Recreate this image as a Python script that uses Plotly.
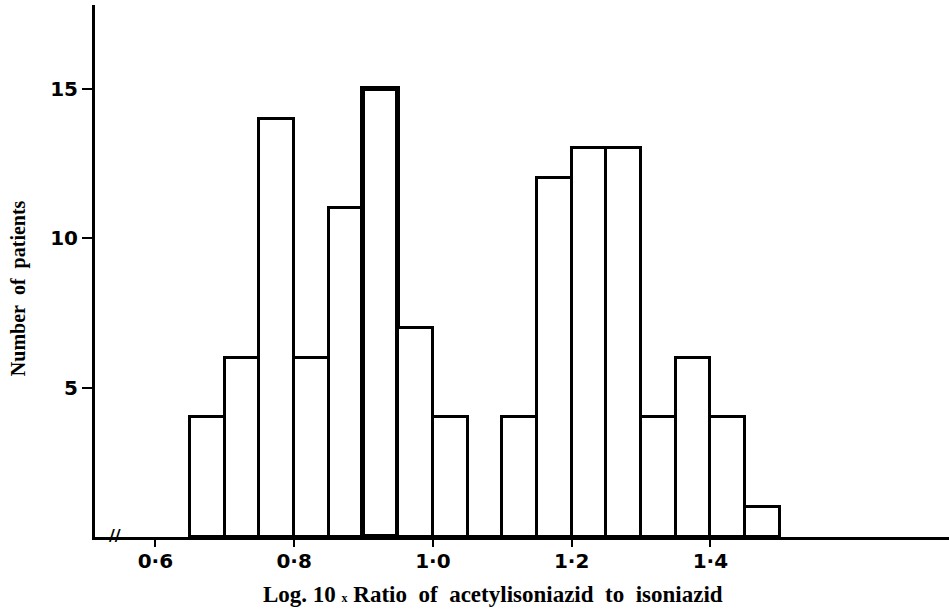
import plotly.graph_objects as go

# Histogram data (bin start, width 0.05)
bin_starts = [0.65, 0.70, 0.75, 0.80, 0.85, 0.90, 0.95, 1.00, 1.05,
              1.10, 1.15, 1.20, 1.25, 1.30, 1.35, 1.40, 1.45]
counts = [4, 6, 14, 6, 11, 15, 7, 4, 0, 4, 12, 13, 13, 4, 6, 4, 1]
bin_width = 0.05

x_tick_vals = [0.6, 0.8, 1.0, 1.2, 1.4]
x_tick_text = ["0·6", "0·8", "1·0", "1·2", "1·4"]
y_tick_vals = [5, 10, 15]
y_tick_text = ["5", "10", "15"]

x_title = "Log. 10 <span style='font-size:12px'>x</span> Ratio  of  acetylisoniazid  to  isoniazid"
y_title = "Number  of  patients"

line_widths = [5 if c == max(counts) else 3 for c in counts]

fig = go.Figure()
fig.add_trace(go.Bar(
    x=bin_starts, y=counts, width=bin_width, offset=0,
    marker=dict(color="white", line=dict(color="black", width=line_widths)),
    showlegend=False, hoverinfo="x+y",
))

fig.update_layout(
    width=949, height=613,
    margin=dict(l=95, r=0, t=5, b=76),
    paper_bgcolor="white", plot_bgcolor="white",
    bargap=0,
    xaxis=dict(
        range=[0.513, 1.744], showgrid=False, zeroline=False,
        showline=True, linecolor="black", linewidth=3,
        tickvals=x_tick_vals, ticktext=x_tick_text,
        ticks="outside", ticklen=7, tickwidth=2, tickcolor="black",
        ticklabelstandoff=-3,
        tickfont=dict(family="DejaVu Sans", size=20, color="black", weight="bold"),
    ),
    yaxis=dict(
        range=[0, 17.8], showgrid=False, zeroline=False,
        showline=True, linecolor="black", linewidth=3,
        tickvals=y_tick_vals, ticktext=y_tick_text,
        ticks="outside", ticklen=10, tickwidth=2, tickcolor="black",
        tickfont=dict(family="DejaVu Sans", size=20, color="black", weight="bold"),
    ),
)

fig.add_annotation(xref="paper", yref="paper", x=0.466, y=-0.109,
                   xanchor="center", yanchor="middle", showarrow=False,
                   text=x_title.replace("  ", "\u00a0\u00a0"),
                   font=dict(family="Liberation Serif", size=23, color="black", weight="bold"))
fig.add_annotation(xref="paper", yref="paper", x=-0.090, y=0.468,
                   xanchor="center", yanchor="middle", showarrow=False, textangle=-90,
                   text=y_title.replace("  ", "\u00a0\u00a0"),
                   font=dict(family="Liberation Serif", size=20, color="black", weight="bold"))

fig.add_annotation(x=0.542, y=0, yref="y", xref="x", text="//", showarrow=False,
                   font=dict(family="DejaVu Sans", size=16, color="black", weight="bold"),
                   yshift=2)

fig.write_html("out.html")
